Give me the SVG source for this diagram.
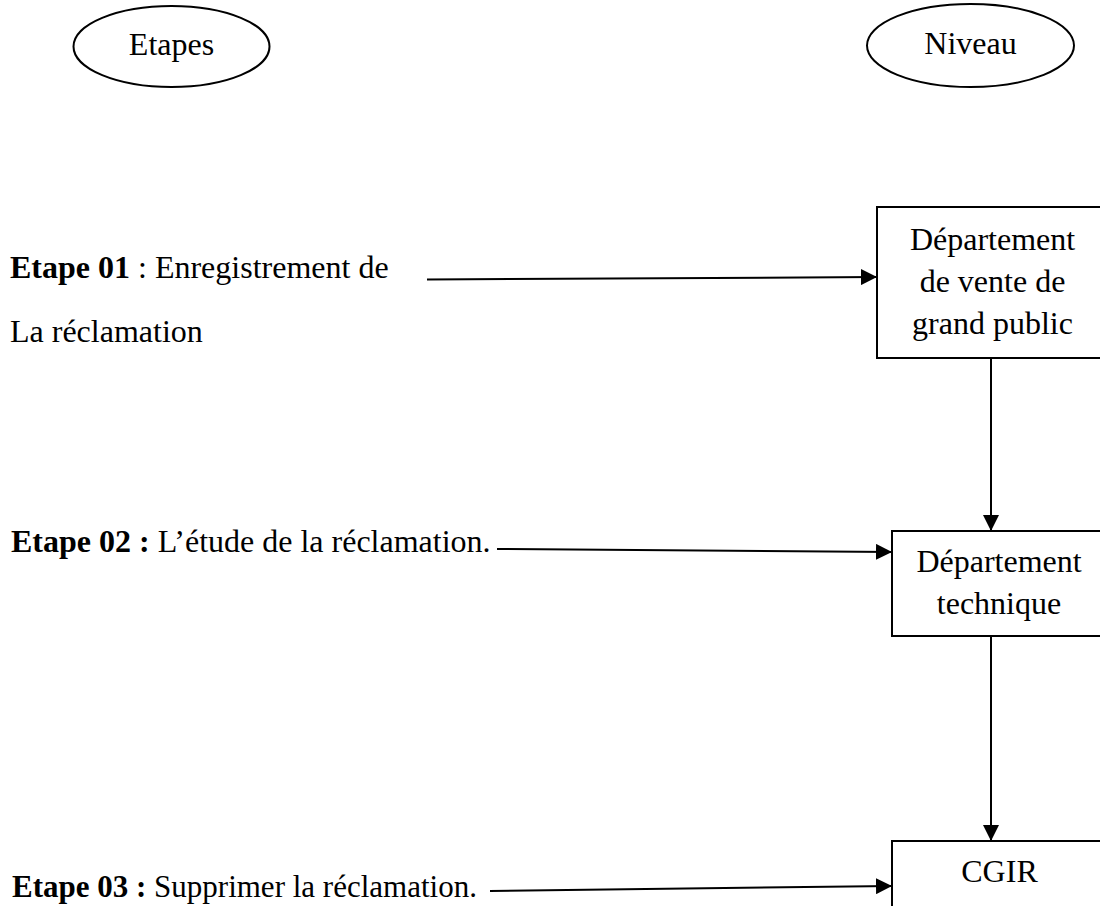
<svg xmlns="http://www.w3.org/2000/svg" width="1100" height="906" viewBox="0 0 1100 906">
  <style>
    .t { font-family: "Liberation Serif", "Times New Roman", serif; font-size: 32px; fill: #000; }
    .s { font-size: 31px; }
    .b { font-weight: bold; }
    .mid { text-anchor: middle; }
    .shape { fill: #fff; stroke: #000; stroke-width: 2; }
    .link { fill: none; stroke: #000; stroke-width: 2; }
  </style>
  <defs>
    <marker id="arrow" viewBox="0 0 16 16" refX="16" refY="8" markerWidth="16" markerHeight="16" markerUnits="userSpaceOnUse" orient="auto">
      <path d="M0,0 L16,8 L0,16 Z" fill="#000"/>
    </marker>
  </defs>
  <rect width="1100" height="906" fill="#fff"/>

  <!-- column headers -->
  <g id="header-etapes">
    <ellipse class="shape" cx="171.5" cy="46.5" rx="98" ry="40.5"/>
    <text class="t mid" x="171.5" y="55">Etapes</text>
  </g>
  <g id="header-niveau">
    <ellipse class="shape" cx="970.5" cy="45.5" rx="103.5" ry="41.5"/>
    <text class="t mid" x="970.5" y="54">Niveau</text>
  </g>

  <!-- step labels -->
  <g id="etape-01">
    <text class="t" x="10" y="278"><tspan class="b">Etape 01</tspan> : Enregistrement de</text>
    <text class="t" x="10" y="342">La réclamation</text>
  </g>
  <g id="etape-02">
    <text class="t" x="11" y="552"><tspan class="b">Etape 02 :</tspan> L’étude de la réclamation.</text>
  </g>
  <g id="etape-03">
    <text class="t s" x="12" y="897"><tspan class="b">Etape 03 :</tspan> Supprimer la réclamation.</text>
  </g>

  <!-- levels -->
  <g id="dept-vente">
    <rect class="shape" x="877" y="207" width="231" height="151"/>
    <text class="t mid" x="992.5" y="250">Département</text>
    <text class="t mid" x="992.5" y="292">de vente de</text>
    <text class="t mid" x="992.5" y="334">grand public</text>
  </g>
  <g id="dept-technique">
    <rect class="shape" x="892" y="531" width="214" height="105"/>
    <text class="t mid" x="999" y="572">Département</text>
    <text class="t mid" x="999" y="614">technique</text>
  </g>
  <g id="cgir">
    <rect class="shape" x="892" y="841" width="214" height="80"/>
    <text class="t mid" x="999.5" y="882">CGIR</text>
  </g>

  <!-- connectors -->
  <g id="connectors">
    <line class="link" x1="427" y1="279.5" x2="877" y2="277" marker-end="url(#arrow)"/>
    <line class="link" x1="497" y1="549" x2="892" y2="552" marker-end="url(#arrow)"/>
    <line class="link" x1="490" y1="891" x2="892" y2="886" marker-end="url(#arrow)"/>
    <line class="link" x1="991" y1="358" x2="991" y2="531" marker-end="url(#arrow)"/>
    <line class="link" x1="991" y1="636" x2="991" y2="841" marker-end="url(#arrow)"/>
  </g>
</svg>
